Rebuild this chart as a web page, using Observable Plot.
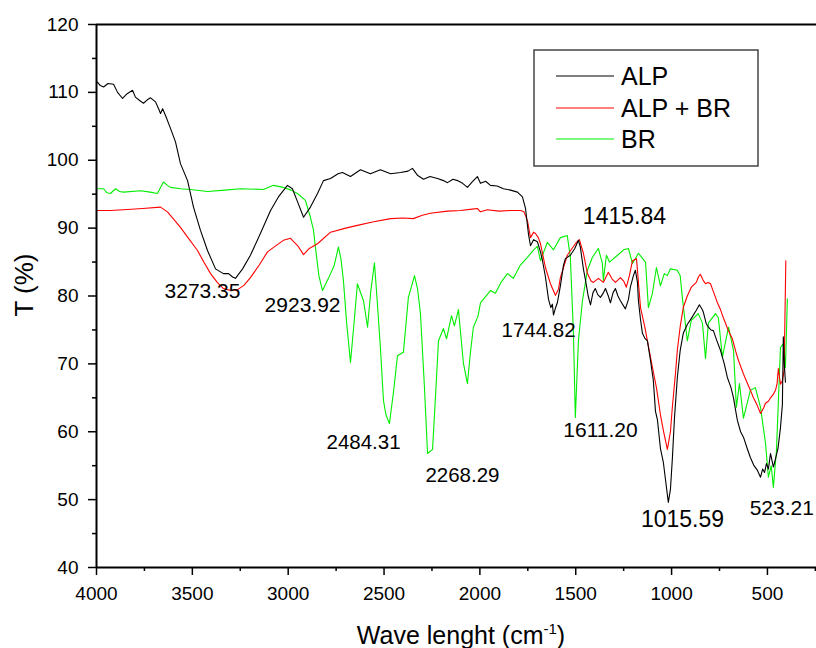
<!DOCTYPE html>
<html>
<head>
<meta charset="utf-8">
<script src="https://cdn.jsdelivr.net/npm/d3@7"></script>
<script src="https://cdn.jsdelivr.net/npm/@observablehq/plot@0.6"></script>
<style>
  html, body { margin: 0; padding: 0; background: #fff; }
  #wrap { position: relative; width: 816px; height: 648px; overflow: hidden; font-family: "Liberation Sans", Arial, sans-serif; }
  #wrap svg.plot { position: absolute; left: 0; top: 0; }
  .ytitle { position: absolute; left: 24px; top: 285px; transform: translate(-50%, -50%) rotate(-90deg); font-size: 26px; white-space: nowrap; line-height: 1; }
  .xtitle { position: absolute; left: 461px; top: 623px; transform: translateX(-50%); font-size: 25px; white-space: nowrap; line-height: 1; }
  .xtitle sup { font-size: 15px; vertical-align: 10px; line-height: 0; }
</style>
</head>
<body>
<div id="wrap"></div>
<script>
// Series: [wavenumber (cm-1), transmittance (%)]
const alp = [
[3995,111.5],[3980,111.0],[3963,110.8],[3940,111.3],[3911,111.2],[3890,110.0],[3864,109.1],[3840,109.8],[3812,110.3],[3797,109.3],[3775,108.8],[3755,108.4],[3735,108.9],[3718,109.2],[3692,108.6],[3675,107.5],[3666,106.9],[3655,107.6],[3640,106.6],[3614,104.7],[3588,102.7],[3562,99.5],[3525,97.0],[3494,93.1],[3458,89.7],[3421,86.7],[3379,84.0],[3338,83.3],[3311,83.3],[3290,82.8],[3275,82.6],[3238,84.0],[3197,86.0],[3145,89.2],[3092,92.6],[3051,94.6],[3004,96.3],[2978,95.8],[2950,93.8],[2920,91.6],[2884,93.1],[2847,95.1],[2816,97.0],[2779,97.3],[2740,98.0],[2717,98.2],[2675,97.6],[2623,98.6],[2571,98.0],[2519,98.6],[2466,98.0],[2414,98.2],[2375,98.4],[2352,98.8],[2326,97.8],[2294,97.2],[2260,97.6],[2221,97.3],[2190,97.0],[2169,96.7],[2140,97.2],[2117,97.0],[2090,96.6],[2065,96.0],[2040,96.8],[2013,97.6],[1997,96.6],[1970,96.9],[1945,96.3],[1910,96.2],[1877,95.8],[1840,95.6],[1804,95.3],[1778,94.6],[1762,92.9],[1747,89.2],[1736,87.4],[1720,88.3],[1700,88.0],[1684,86.5],[1674,85.3],[1658,82.8],[1642,79.5],[1630,78.3],[1622,78.8],[1616,77.2],[1606,78.2],[1596,79.0],[1580,81.5],[1564,84.5],[1554,85.5],[1528,86.0],[1505,87.0],[1486,88.2],[1476,87.2],[1460,84.0],[1450,82.5],[1435,80.0],[1423,78.7],[1410,80.5],[1398,81.1],[1385,80.2],[1371,79.8],[1355,80.5],[1345,81.1],[1330,80.0],[1319,79.0],[1305,80.5],[1293,81.1],[1280,80.0],[1267,79.3],[1241,78.1],[1225,79.5],[1215,81.3],[1199,83.0],[1189,83.8],[1178,82.0],[1173,79.3],[1162,76.5],[1152,74.5],[1140,73.8],[1126,73.4],[1110,70.5],[1095,67.5],[1084,63.0],[1074,61.8],[1058,57.5],[1043,55.5],[1032,53.0],[1017,49.6],[1006,51.5],[996,56.0],[985,62.0],[970,68.0],[955,72.0],[939,74.5],[918,75.8],[897,76.7],[871,77.9],[855,78.7],[840,78.0],[834,77.6],[820,76.0],[808,75.4],[795,75.0],[782,74.9],[765,73.5],[745,72.0],[725,70.0],[709,68.0],[690,66.5],[677,65.0],[665,63.0],[657,61.7],[640,60.0],[625,59.2],[605,57.5],[589,56.2],[570,55.0],[552,54.3],[536,53.3],[525,54.5],[515,54.0],[505,55.3],[495,54.5],[484,56.8],[469,54.8],[458,56.0],[445,57.5],[432,60.6],[422,64.0],[417,74.0],[412,70.0],[406,67.3]
];
const alpBr = [
[3995,92.6],[3930,92.6],[3859,92.7],[3760,92.9],[3666,93.1],[3630,92.4],[3600,91.4],[3562,90.1],[3520,88.5],[3473,86.7],[3440,85.0],[3405,83.3],[3370,82.0],[3338,81.1],[3300,80.8],[3265,80.9],[3230,81.6],[3197,82.7],[3150,84.6],[3108,86.5],[3060,87.5],[3025,88.2],[2988,88.5],[2950,87.4],[2920,86.1],[2890,87.0],[2847,87.7],[2779,89.4],[2700,90.0],[2639,90.4],[2560,90.9],[2466,91.4],[2400,91.5],[2347,91.4],[2300,91.9],[2258,92.2],[2169,92.5],[2100,92.6],[2040,92.8],[2013,92.9],[1997,92.4],[1961,92.7],[1900,92.5],[1840,92.6],[1788,92.6],[1770,92.4],[1752,91.1],[1736,88.6],[1720,89.4],[1710,89.2],[1695,88.6],[1684,87.7],[1658,84.2],[1632,81.8],[1606,80.1],[1590,81.0],[1580,82.7],[1544,86.0],[1502,87.7],[1481,88.3],[1460,86.3],[1439,83.3],[1420,82.2],[1408,82.0],[1382,82.6],[1356,82.0],[1330,83.5],[1310,82.5],[1293,82.0],[1267,82.7],[1250,82.2],[1236,81.3],[1220,83.0],[1204,85.2],[1183,85.5],[1170,81.0],[1162,78.3],[1140,75.5],[1126,73.4],[1100,69.5],[1079,66.5],[1058,62.5],[1043,60.2],[1022,57.4],[1006,60.0],[996,63.6],[980,68.5],[970,72.0],[955,75.5],[939,78.3],[918,80.0],[897,81.3],[871,82.0],[860,82.8],[850,83.2],[835,82.3],[823,81.8],[810,82.0],[797,81.8],[780,80.5],[761,79.0],[745,78.0],[730,76.8],[705,75.0],[683,73.7],[665,71.8],[651,70.5],[625,68.5],[604,67.1],[590,66.2],[573,65.0],[555,64.0],[536,62.7],[520,63.5],[510,64.2],[495,64.5],[484,65.0],[470,65.5],[458,66.1],[450,67.0],[443,69.3],[432,67.0],[422,67.5],[413,69.0],[404,85.2]
];
const br = [
[3995,95.8],[3963,95.8],[3945,95.2],[3927,95.1],[3901,95.8],[3880,95.4],[3859,95.3],[3770,95.5],[3720,95.3],[3682,95.1],[3651,96.8],[3630,96.3],[3614,96.0],[3560,95.8],[3510,95.7],[3421,95.4],[3330,95.6],[3249,95.8],[3129,95.7],[3077,96.3],[3025,96.0],[2985,95.6],[2952,95.1],[2910,94.1],[2884,91.6],[2868,89.7],[2858,87.2],[2840,83.0],[2821,80.8],[2790,82.6],[2760,84.5],[2738,87.2],[2725,85.5],[2712,82.3],[2695,76.0],[2675,70.2],[2655,76.5],[2639,81.8],[2620,80.3],[2607,79.3],[2586,75.4],[2570,80.5],[2550,84.9],[2535,79.0],[2519,72.4],[2503,64.6],[2490,62.5],[2472,61.2],[2450,66.0],[2430,71.2],[2399,71.7],[2373,79.8],[2341,83.0],[2325,81.0],[2310,77.4],[2290,67.0],[2273,56.8],[2247,57.4],[2230,66.0],[2216,73.4],[2190,75.2],[2174,73.7],[2148,77.1],[2133,75.6],[2112,78.0],[2086,70.1],[2065,67.1],[2050,71.5],[2034,75.4],[2010,77.0],[1997,79.0],[1945,80.8],[1919,80.4],[1890,82.0],[1856,83.3],[1825,82.6],[1790,84.5],[1752,85.7],[1720,86.8],[1700,87.3],[1684,85.2],[1648,87.9],[1616,86.8],[1580,88.6],[1544,88.9],[1528,85.7],[1512,74.5],[1502,62.1],[1486,73.4],[1465,79.3],[1439,83.8],[1413,85.7],[1382,87.0],[1361,84.8],[1356,82.3],[1340,86.0],[1324,85.0],[1282,86.0],[1250,86.8],[1225,87.0],[1204,84.8],[1173,86.3],[1136,85.0],[1121,78.3],[1100,80.4],[1079,84.2],[1058,81.5],[1038,83.3],[1022,83.0],[1006,84.0],[970,83.8],[955,83.0],[944,79.8],[918,73.4],[897,76.4],[861,77.4],[839,76.0],[823,70.8],[808,76.0],[771,77.4],[756,76.8],[735,71.0],[703,75.4],[677,72.0],[662,63.6],[646,67.1],[625,62.0],[589,66.1],[563,66.5],[536,63.6],[510,58.3],[495,53.3],[480,55.0],[469,51.8],[453,57.2],[432,72.4],[417,73.0],[406,69.5],[396,79.6]
];

// Peak annotations: label text, anchor wavenumber, anchor T, font size
const peakLabels = ["3273.35","2923.92","2484.31","2268.29","1744.82","1415.84","1611.20","1015.59","523.21"];
const peakWn     = [3447, 2925, 2607, 2091, 1694, 1246, 1371, 943, 425];
const peakT      = [80.7, 78.6, 58.4, 53.6, 74.9, 91.7, 60.2, 47.1, 48.7];
const peakSize   = [21, 21, 20.5, 20.5, 20.5, 23, 21, 23, 21];

const xTicks = [4000, 3500, 3000, 2500, 2000, 1500, 1000, 500];
const xMinor = [3750, 3250, 2750, 2250, 1750, 1250, 750, 250];
const yTicks = [40, 50, 60, 70, 80, 90, 100, 110, 120];
const yMinor = [45, 55, 65, 75, 85, 95, 105, 115];

const seriesNames = ["ALP", "ALP + BR", "BR"];
const seriesColors = ["#000000", "#ff0000", "#00ee00"];

const peaks = peakLabels.map((t, i) => ({text: t, wn: peakWn[i], T: peakT[i], size: peakSize[i]}));

const chart = Plot.plot({
  width: 816,
  height: 648,
  marginLeft: 96,
  marginRight: 0,
  marginTop: 24,
  marginBottom: 81,
  x: {domain: [4000, 244]},
  y: {domain: [40, 120]},
  style: {fontFamily: "'Liberation Sans', Arial, sans-serif", fontSize: "19px", color: "#000", background: "white"},
  marks: [
    Plot.axisX({ticks: xTicks, tickSize: 8, tickPadding: 11, tickFormat: d => String(d), label: null, fontSize: 19, strokeWidth: 1.5}),
    Plot.axisX({ticks: xMinor, tickSize: 4, tickFormat: () => "", label: null, strokeWidth: 1.5}),
    Plot.axisY({ticks: yTicks, tickSize: 8, tickPadding: 10, tickFormat: d => String(d), label: null, fontSize: 19, strokeWidth: 1.5}),
    Plot.axisY({ticks: yMinor, tickSize: 4, tickFormat: () => "", label: null, strokeWidth: 1.5}),
    Plot.line(br, {x: d => d[0], y: d => d[1], stroke: seriesColors[2], strokeWidth: 1.1}),
    Plot.line(alpBr, {x: d => d[0], y: d => d[1], stroke: seriesColors[1], strokeWidth: 1.1}),
    Plot.line(alp, {x: d => d[0], y: d => d[1], stroke: seriesColors[0], strokeWidth: 1.1}),
    Plot.ruleX([4000], {strokeWidth: 2}),
    Plot.ruleY([40, 120], {strokeWidth: 2}),
    Plot.text(peaks, {x: "wn", y: "T", text: "text", fontSize: "size", fill: "#000"})
  ]
});
chart.classList.add("plot");

const wrap = document.getElementById("wrap");
wrap.appendChild(chart);

const yt = document.createElement("div");
yt.className = "ytitle";
yt.textContent = "T (%)";
wrap.appendChild(yt);

const xt = document.createElement("div");
xt.className = "xtitle";
xt.innerHTML = "Wave lenght (cm<sup>-1</sup>)";
wrap.appendChild(xt);

// Legend box
const ns = "http://www.w3.org/2000/svg";
const leg = document.createElementNS(ns, "svg");
leg.setAttribute("width", 226);
leg.setAttribute("height", 118);
leg.style.position = "absolute";
leg.style.left = "533px";
leg.style.top = "49px";
const box = document.createElementNS(ns, "rect");
box.setAttribute("x", 1); box.setAttribute("y", 1);
box.setAttribute("width", 224); box.setAttribute("height", 116);
box.setAttribute("fill", "white"); box.setAttribute("stroke", "#444"); box.setAttribute("stroke-width", 1.5);
leg.appendChild(box);
const rowsY = [27, 59, 90];
seriesNames.forEach((name, i) => {
  const l = document.createElementNS(ns, "line");
  l.setAttribute("x1", 23); l.setAttribute("x2", 81);
  l.setAttribute("y1", rowsY[i]); l.setAttribute("y2", rowsY[i]);
  l.setAttribute("stroke", seriesColors[i]); l.setAttribute("stroke-width", 1.2);
  leg.appendChild(l);
  const t = document.createElementNS(ns, "text");
  t.setAttribute("x", 88); t.setAttribute("y", rowsY[i]);
  t.setAttribute("dy", "0.36em");
  t.setAttribute("font-size", 25);
  t.setAttribute("font-family", "'Liberation Sans', Arial, sans-serif");
  t.textContent = name;
  leg.appendChild(t);
});
wrap.appendChild(leg);
</script>
</body>
</html>
